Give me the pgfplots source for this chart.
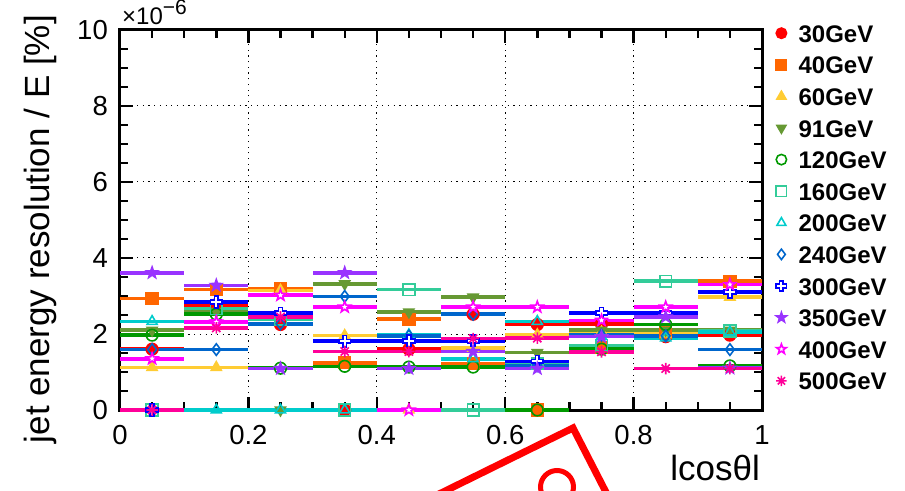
\documentclass[border=0pt]{standalone}
\usepackage{fontspec}
\setmainfont{Liberation Sans}
\usepackage{pgfplots}
\usepackage{pgfplotstable}
\pgfplotsset{compat=1.18}

% series colours
\definecolor{c30}{RGB}{255,0,0}
\definecolor{c40}{RGB}{255,102,0}
\definecolor{c60}{RGB}{255,204,51}
\definecolor{c91}{RGB}{102,153,51}
\definecolor{c120}{RGB}{0,153,0}
\definecolor{c160}{RGB}{51,204,153}
\definecolor{c200}{RGB}{0,204,204}
\definecolor{c240}{RGB}{0,102,204}
\definecolor{c300}{RGB}{0,0,255}
\definecolor{c350}{RGB}{153,51,255}
\definecolor{c400}{RGB}{255,0,255}
\definecolor{c500}{RGB}{255,0,153}

% extra marker shapes
\pgfdeclareplotmark{opencross}{%
  \pgfpathmoveto{\pgfqpoint{-0.33\pgfplotmarksize}{\pgfplotmarksize}}%
  \pgfpathlineto{\pgfqpoint{0.33\pgfplotmarksize}{\pgfplotmarksize}}%
  \pgfpathlineto{\pgfqpoint{0.33\pgfplotmarksize}{0.33\pgfplotmarksize}}%
  \pgfpathlineto{\pgfqpoint{\pgfplotmarksize}{0.33\pgfplotmarksize}}%
  \pgfpathlineto{\pgfqpoint{\pgfplotmarksize}{-0.33\pgfplotmarksize}}%
  \pgfpathlineto{\pgfqpoint{0.33\pgfplotmarksize}{-0.33\pgfplotmarksize}}%
  \pgfpathlineto{\pgfqpoint{0.33\pgfplotmarksize}{-\pgfplotmarksize}}%
  \pgfpathlineto{\pgfqpoint{-0.33\pgfplotmarksize}{-\pgfplotmarksize}}%
  \pgfpathlineto{\pgfqpoint{-0.33\pgfplotmarksize}{-0.33\pgfplotmarksize}}%
  \pgfpathlineto{\pgfqpoint{-\pgfplotmarksize}{-0.33\pgfplotmarksize}}%
  \pgfpathlineto{\pgfqpoint{-\pgfplotmarksize}{0.33\pgfplotmarksize}}%
  \pgfpathlineto{\pgfqpoint{-0.33\pgfplotmarksize}{0.33\pgfplotmarksize}}%
  \pgfpathclose
  \pgfusepathqfillstroke
}
\pgfdeclareplotmark{pstar}{%
  \pgfpathmoveto{\pgfpointpolar{90}{\pgfplotmarksize}}%
  \pgfpathlineto{\pgfpointpolar{126}{0.4\pgfplotmarksize}}%
  \pgfpathlineto{\pgfpointpolar{162}{\pgfplotmarksize}}%
  \pgfpathlineto{\pgfpointpolar{198}{0.4\pgfplotmarksize}}%
  \pgfpathlineto{\pgfpointpolar{234}{\pgfplotmarksize}}%
  \pgfpathlineto{\pgfpointpolar{270}{0.4\pgfplotmarksize}}%
  \pgfpathlineto{\pgfpointpolar{306}{\pgfplotmarksize}}%
  \pgfpathlineto{\pgfpointpolar{342}{0.4\pgfplotmarksize}}%
  \pgfpathlineto{\pgfpointpolar{18}{\pgfplotmarksize}}%
  \pgfpathlineto{\pgfpointpolar{54}{0.4\pgfplotmarksize}}%
  \pgfpathclose
  \pgfusepathqfillstroke
}
\pgfdeclareplotmark{dtriangle}{%
  \pgfpathmoveto{\pgfpointpolar{270}{\pgfplotmarksize}}%
  \pgfpathlineto{\pgfpointpolar{30}{\pgfplotmarksize}}%
  \pgfpathlineto{\pgfpointpolar{150}{\pgfplotmarksize}}%
  \pgfpathclose
  \pgfusepathqfillstroke
}
\pgfdeclareplotmark{ast8}{%
  \pgfpathmoveto{\pgfpointpolar{0}{\pgfplotmarksize}}\pgfpathlineto{\pgfpointpolar{180}{\pgfplotmarksize}}%
  \pgfpathmoveto{\pgfpointpolar{45}{\pgfplotmarksize}}\pgfpathlineto{\pgfpointpolar{225}{\pgfplotmarksize}}%
  \pgfpathmoveto{\pgfpointpolar{90}{\pgfplotmarksize}}\pgfpathlineto{\pgfpointpolar{270}{\pgfplotmarksize}}%
  \pgfpathmoveto{\pgfpointpolar{135}{\pgfplotmarksize}}\pgfpathlineto{\pgfpointpolar{315}{\pgfplotmarksize}}%
  \pgfusepathqstroke
}

% jet energy resolution per |cos theta| bin (units of 1e-6)
\pgfplotstableread{
x     e30  e40  e60  e91  e120 e160 e200 e240 e300 e350 e400 e500
0.05  1.60 2.93 1.12 2.10 1.97 0    2.33 1.59 0    3.61 1.35 0
0.15  2.77 3.17 1.12 2.60 2.52 2.67 0    1.59 2.84 3.28 2.32 2.16
0.25  2.25 3.20 3.15 0    1.10 2.39 0    2.27 2.55 1.09 3.02 2.45
0.35  0    1.24 1.96 3.32 1.15 0    0    2.99 1.81 3.61 2.71 1.54
0.45  1.60 2.39 0    2.58 1.13 3.17 1.98 1.95 1.82 1.09 0    1.54
0.55  2.52 1.22 1.63 2.97 1.13 0    1.35 2.52 1.82 1.54 2.71 1.88
0.65  2.25 0    1.98 1.51 0    1.22 2.33 1.17 1.28 1.09 2.71 1.89
0.75  2.27 1.65 2.05 2.10 1.60 1.70 1.93 1.97 2.55 1.93 2.36 1.53
0.85  1.93 2.03 2.00 2.10 2.25 3.39 1.90 1.95 2.56 2.45 2.71 1.09
0.95  1.97 3.39 2.97 2.10 1.16 2.08 2.05 1.59 3.10 1.10 3.30 1.09
}\resdata

% one series: bin-width bars, then the markers
\newcommand{\resseries}[4]{%
  \addplot[forget plot, draw=none, mark=none,
    error bars/.cd, x dir=both, x fixed=0.05, error mark=none,
    error bar style={line width=3.6pt, draw=#2, solid}]
    table[x=x, y=#1] {\resdata};
  \addplot[only marks, mark=#3, mark size=5.8pt,
    mark options={draw=#2, fill=#4, line width=1.6pt, solid}]
    table[x=x, y=#1] {\resdata};
}

\begin{document}
\begin{tikzpicture}
\useasboundingbox (-120pt,-80pt) rectangle (785pt,410pt);
\clip (-120pt,-80pt) rectangle (785pt,410pt);
\begin{axis}[
  at={(0pt,0pt)}, anchor=south west,
  scale only axis, width=642pt, height=380pt,
  xmin=0, xmax=1, ymin=0, ymax=10,
  clip=false,
  xtick={0,0.2,0.4,0.6,0.8,1},
  xticklabels={0,0.2,0.4,0.6,0.8,1},
  ytick={0,2,4,6,8,10},
  yticklabels={0,2,4,6,8,10},
  minor x tick num=3, minor y tick num=3,
  tick align=inside,
  major tick length=13pt, minor tick length=8pt,
  tick style={black, line width=2.4pt},
  axis line style={line width=3pt},
  grid=major,
  major grid style={black, line width=1pt, dash pattern=on 1.2pt off 4.5pt},
  /pgf/number format/assume math mode=true,
  tick label style={font=\fontsize{27.5}{27.5}\selectfont, inner sep=0pt},
  xticklabel shift=15pt,
  yticklabel shift=12pt,
  legend style={at={(1,1)}, anchor=north west, xshift=14pt, yshift=8pt,
    draw=none, fill=none, inner sep=0pt, row sep=9.6pt,
    font=\bfseries\fontsize{24}{24}\selectfont,
    nodes={inner sep=2pt, text height=18pt, text depth=0pt},
    /tikz/every odd column/.style={column sep=10pt}},
  legend cell align=left,
  legend image code/.code={\draw[#1, mark size=5.2pt] plot coordinates {(0pt,0pt)};},
]
\resseries{e30}{c30}{*}{c30}
\addlegendentry{30GeV}
\resseries{e40}{c40}{square*}{c40}
\addlegendentry{40GeV}
\resseries{e60}{c60}{triangle*}{c60}
\addlegendentry{60GeV}
\resseries{e91}{c91}{dtriangle}{c91}
\addlegendentry{91GeV}
\resseries{e120}{c120}{o}{white}
\addlegendentry{120GeV}
\resseries{e160}{c160}{square}{white}
\addlegendentry{160GeV}
\resseries{e200}{c200}{triangle}{white}
\addlegendentry{200GeV}
\resseries{e240}{c240}{diamond}{white}
\addlegendentry{240GeV}
\resseries{e300}{c300}{opencross}{white}
\addlegendentry{300GeV}
\resseries{e350}{c350}{pstar}{c350}
\addlegendentry{350GeV}
\resseries{e400}{c400}{pstar}{white}
\addlegendentry{400GeV}
\resseries{e500}{c500}{ast8}{c500}
\addlegendentry{500GeV}
\end{axis}

% axis titles and exponent
\node[rotate=90, anchor=base east, font=\fontsize{35}{35}\selectfont, inner sep=0pt]
  at (-70pt,395pt) {jet energy resolution / E [\%]};
\node[anchor=base east, font=\fontsize{35}{35}\selectfont, inner sep=0pt]
  at (640pt,-70pt) {lcosθl};
\node[anchor=base west, font=\fontsize{24}{24}\selectfont, inner sep=0pt]
  at (2pt,385pt) {×10\raisebox{0.42em}{\fontsize{21}{21}\selectfont −6}};

% red stamp
\draw[red, line width=7pt, line join=miter]
  (317pt,-85pt) -- (453pt,-18pt) -- (490pt,-90pt);
\draw[red, line width=5pt] (437pt,-77pt) circle[radius=16.5pt];
\end{tikzpicture}
\end{document}
